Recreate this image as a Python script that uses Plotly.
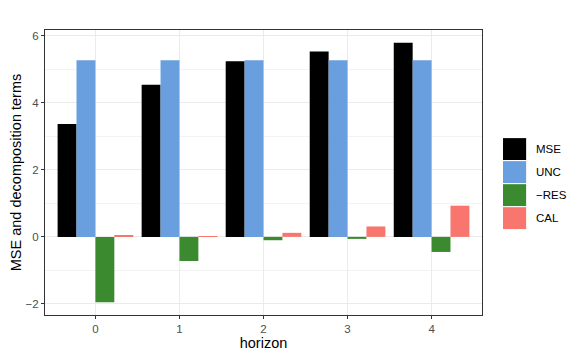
import plotly.graph_objects as go

horizons = [0, 1, 2, 3, 4]
terms = ["MSE", "UNC", "\u2212RES", "CAL"]
mse = [3.37, 4.54, 5.24, 5.53, 5.79]
unc = [5.27, 5.27, 5.27, 5.27, 5.27]
neg_res = [-1.95, -0.72, -0.10, -0.06, -0.45]
cal = [0.05, 0.005, 0.12, 0.31, 0.93]
colors = ["#000000", "#699EDF", "#3C8A30", "#F8766D"]

fig = go.Figure()
for name, vals, col in zip(terms, [mse, unc, neg_res, cal], colors):
    fig.add_trace(go.Bar(
        x=horizons, y=vals, name=name,
        marker=dict(color=col, line=dict(width=0)),
        showlegend=False,
    ))

# ggplot-like legend with large keys
key_h = 23 / 284.7
y_top = (314.7 - 138) / 284.7
for i, (name, col) in enumerate(zip(terms, colors)):
    y1 = y_top - i * key_h
    y0 = y1 - key_h + 0.004
    fig.add_shape(type="rect", xref="paper", yref="paper",
                  x0=1.048, x1=1.101, y0=y0, y1=y1,
                  fillcolor=col, line=dict(width=0))
    fig.add_annotation(x=1.119, y=(y0 + y1) / 2, xref="paper", yref="paper",
                       text=name, showarrow=False, xanchor="left",
                       font=dict(size=11.5, color="#000000"))

axis_common = dict(
    showline=True, linecolor="#333333", linewidth=1, mirror=True,
    ticks="outside", ticklen=3, tickcolor="#333333",
    tickfont=dict(size=11.5, color="#4D4D4D"),
    gridcolor="#EBEBEB", gridwidth=1, zeroline=False, automargin=False,
)

# page body adds an 8px offset, so margins are shifted to compensate
fig.update_layout(
    width=581, height=358,
    margin=dict(l=37, r=107, t=22, b=51),
    paper_bgcolor="white", plot_bgcolor="white",
    font=dict(family="Liberation Sans, Arial, sans-serif", color="#000000"),
    barmode="group", bargap=0.1, bargroupgap=0,
    xaxis=dict(axis_common, range=[-0.6, 4.6], tickvals=horizons,
               title=dict(text="horizon", font=dict(size=14.5), standoff=4)),
    yaxis=dict(axis_common, range=[-2.33, 6.17], tickvals=[-2, 0, 2, 4, 6],
               ticktext=["\u22122", "0", "2", "4", "6"],
               minor=dict(dtick=1, tick0=1, showgrid=True, gridcolor="#F3F3F3",
                          gridwidth=0.6, ticks=""),
               title=dict(text="MSE and decomposition terms",
                          font=dict(size=14.5), standoff=4)),
)

fig.write_html("out.html")
